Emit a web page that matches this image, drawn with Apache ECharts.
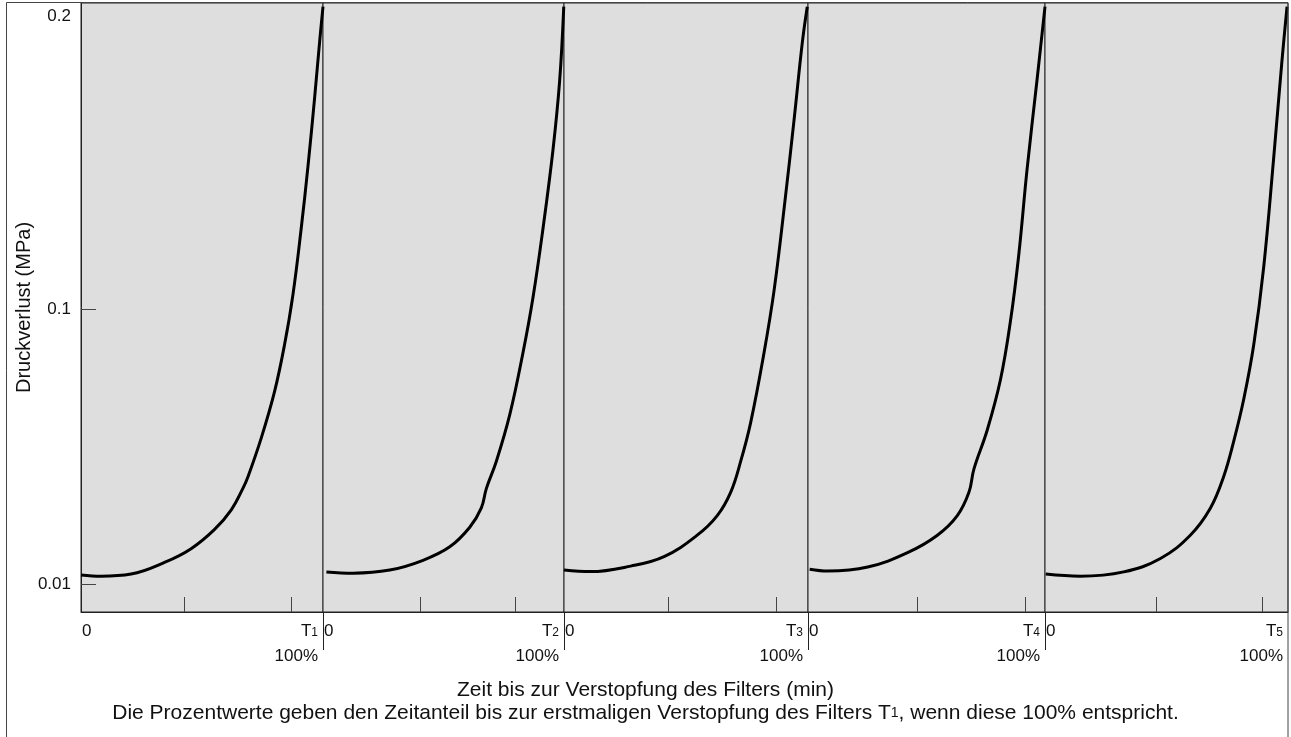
<!DOCTYPE html>
<html>
<head>
<meta charset="utf-8">
<title>Druckverlust</title>
<script src="https://cdn.jsdelivr.net/npm/echarts@6/dist/echarts.min.js"></script>
<style>
  html, body { margin: 0; padding: 0; background: #fff; }
  #main { width: 1291px; height: 737px; }
</style>
</head>
<body>
<div id="main"></div>
<script>
// Zeitanteil (% von T1..T5) und Druckverlust (MPa)
var time1 = [0, 8.3, 20.7, 34.5, 45.5, 55.2, 62.1, 66.9, 69.0, 74.5, 80.0, 84.1, 87.6, 91.0, 93.8, 96.6, 98.6, 100];
var press1 = [0.0131, 0.0127, 0.0134, 0.0172, 0.0217, 0.0280, 0.0344, 0.0414, 0.0452, 0.0579, 0.0731, 0.0883, 0.1048, 0.1264, 0.1467, 0.1696, 0.1873, 0.1988];

var time2 = [1.4, 12.4, 27.7, 41.5, 52.6, 60.9, 65.7, 67.8, 71.9, 77.5, 83.0, 87.1, 91.3, 95.4, 98.2, 99.9];
var press2 = [0.0141, 0.0137, 0.0147, 0.0179, 0.0223, 0.0287, 0.0350, 0.0414, 0.0502, 0.0655, 0.0858, 0.1036, 0.1264, 0.1518, 0.1746, 0.1988];

var time3 = [0, 10.9, 27.3, 41.0, 54.6, 62.8, 68.3, 72.4, 76.5, 82.0, 86.1, 90.2, 94.3, 97.7, 99.7];
var press3 = [0.0147, 0.0142, 0.0160, 0.0191, 0.0261, 0.0325, 0.0401, 0.0502, 0.0629, 0.0858, 0.1061, 0.1328, 0.1619, 0.1873, 0.1988];

var time4 = [0.7, 8.4, 25.2, 42.0, 54.6, 63.0, 67.9, 70.0, 75.6, 81.2, 85.4, 88.9, 92.4, 96.6, 100];
var press4 = [0.0150, 0.0144, 0.0157, 0.0204, 0.0261, 0.0325, 0.0401, 0.0477, 0.0604, 0.0769, 0.0959, 0.1175, 0.1454, 0.1746, 0.1988];

var time5 = [0.3, 14.5, 32.4, 47.5, 59.8, 68.1, 73.5, 77.6, 81.8, 85.9, 90.0, 94.1, 97.5, 99.6];
var press5 = [0.0134, 0.0127, 0.0141, 0.0185, 0.0261, 0.0350, 0.0452, 0.0566, 0.0706, 0.0883, 0.1137, 0.1493, 0.1810, 0.1988];

var times = [time1, time2, time3, time4, time5];
var pressures = [press1, press2, press3, press4, press5];
var panelIndex = ['1', '2', '3', '4', '5'];
var xTickValues = [[42.8, 86.9], [40.4, 79.7], [42.8, 86.9], [45.9, 91.5], [45.8, 89.3]];
var yLabelValues = [0.01, 0.1, 0.2];
var yTickValues = [0.01, 0.1];

// layout of the five panels (px)
var panelLeft = [81, 323, 564, 808, 1045];
var panelWidth = [242, 241, 244, 237, 243];
var plotTop = 3, plotBottom = 612;

var font = "'Liberation Sans', Arial, sans-serif";
var textColor = '#111';

var myChart = echarts.init(document.getElementById('main'));

var grids = [], xAxes = [], yAxes = [], series = [], graphics = [];

panelIndex.forEach(function (n, i) {
  grids.push({
    left: panelLeft[i],
    top: plotTop,
    width: panelWidth[i],
    height: plotBottom - plotTop,
    show: true,
    backgroundColor: '#dedede',
    borderColor: '#222',
    borderWidth: 1
  });
  xAxes.push({
    gridIndex: i,
    type: 'value',
    min: 0,
    max: 100,
    axisLine: { show: true, lineStyle: { color: '#222', width: 1 } },
    splitLine: { show: false },
    axisTick: {
      show: true,
      inside: true,
      length: 15,
      customValues: xTickValues[i],
      lineStyle: { color: '#444', width: 1 }
    },
    axisLabel: {
      show: true,
      customValues: [0, 100],
      margin: 7,
      alignMinLabel: 'left',
      alignMaxLabel: 'right',
      fontFamily: font,
      color: textColor,
      formatter: function (v) {
        if (v === 0) return '{z|0}';
        return '{t|T}{s|' + n + '}\n{p|100%}';
      },
      rich: {
        z: { fontSize: 17, fontFamily: font, color: textColor, lineHeight: 24, padding: [0, 0, 0, 1] },
        t: { fontSize: 17, fontFamily: font, color: textColor, lineHeight: 24 },
        s: { fontSize: 12, fontFamily: font, color: textColor, lineHeight: 24, verticalAlign: 'bottom', padding: [0, 5, 4, 0] },
        p: { fontSize: 17, fontFamily: font, color: textColor, lineHeight: 26, padding: [0, 5, 0, 0] }
      }
    }
  });
  yAxes.push({
    gridIndex: i,
    type: 'value',
    min: 0.001,
    max: 0.2,
    show: i === 0,
    axisLine: { show: true, lineStyle: { color: '#222', width: 1 } },
    splitLine: { show: false },
    axisTick: {
      show: true,
      inside: true,
      length: 15,
      customValues: yTickValues,
      lineStyle: { color: '#444', width: 1 }
    },
    axisLabel: {
      customValues: yLabelValues,
      margin: 10,
      verticalAlignMaxLabel: 'top',
      fontFamily: font,
      color: textColor,
      formatter: function (v) { return v === 0.2 ? '{top|0.2}' : '{n|' + v + '}'; },
      rich: {
        n: { fontSize: 17, fontFamily: font, color: textColor },
        top: { fontSize: 17, fontFamily: font, color: textColor, padding: [5, 0, 0, 0] }
      }
    },
    name: i === 0 ? 'Druckverlust (MPa)' : '',
    nameLocation: 'middle',
    nameGap: 46,
    nameTextStyle: { fontSize: 20, fontFamily: font, color: textColor }
  });
  series.push({
    type: 'line',
    xAxisIndex: i,
    yAxisIndex: i,
    data: times[i].map(function (t, k) { return [t, pressures[i][k]]; }),
    smooth: 0.4,
    showSymbol: false,
    lineStyle: { color: '#000', width: 3 },
    z: 5
  });
  if (i > 0) {
    graphics.push({
      type: 'line',
      shape: { x1: panelLeft[i] + 0.5, y1: plotBottom, x2: panelLeft[i] + 0.5, y2: 650 },
      style: { stroke: '#222', lineWidth: 1 }
    });
  }
});

// outer frame
graphics.push({
  type: 'rect',
  shape: { x: 6.5, y: 2.5, width: 1281.5, height: 800 },
  style: { fill: null, stroke: '#444', lineWidth: 1 },
  z: 10
});

var titleText = {
  fontSize: 21,
  fontWeight: 'normal',
  fontFamily: font,
  color: textColor,
  lineHeight: 22,
  rich: {
    s: { fontSize: 14, fontFamily: font, color: textColor, lineHeight: 22, verticalAlign: 'bottom', padding: [0, 0, 4, 0] }
  }
};

var option = {
  backgroundColor: '#fff',
  animation: false,
  title: [
    {
      text: 'Zeit bis zur Verstopfung des Filters (min)',
      left: 'center',
      top: 679,
      padding: 0,
      textStyle: titleText
    },
    {
      text: 'Die Prozentwerte geben den Zeitanteil bis zur erstmaligen Verstopfung des Filters T{s|1}, wenn diese 100% entspricht.',
      left: 'center',
      top: 702,
      padding: 0,
      textStyle: titleText
    }
  ],
  grid: grids,
  xAxis: xAxes,
  yAxis: yAxes,
  series: series,
  graphic: graphics
};
myChart.setOption(option);
</script>
</body>
</html>
